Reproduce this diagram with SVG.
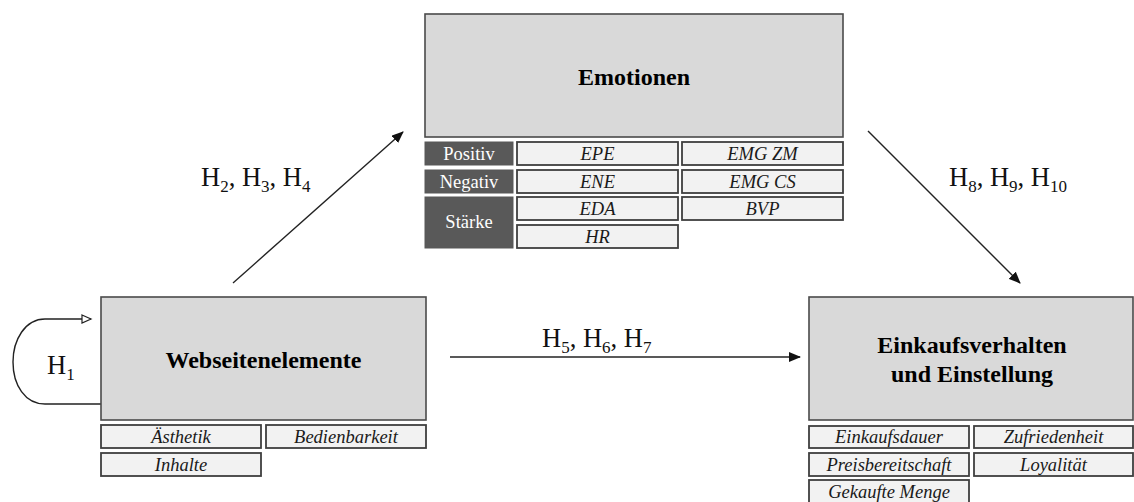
<svg xmlns="http://www.w3.org/2000/svg" width="1134" height="502" viewBox="0 0 1134 502">
<style>
text{font-family:"Liberation Serif","Times New Roman",serif}
.main{fill:#d9d9d9;stroke:#4a4a4a;stroke-width:1.6}
.sub{fill:#f2f2f2;stroke:#3f3f3f;stroke-width:1.8}
.dark{fill:#595959;stroke:#595959;stroke-width:1}
.title{font-weight:bold;font-size:24px;fill:#000;text-anchor:middle}
.it{font-style:italic;font-size:18.5px;fill:#1a1a1a;text-anchor:middle}
.lbl{font-size:18.5px;fill:#fff;text-anchor:middle}
.h{font-size:26.5px;fill:#111}
.s{font-size:17px}
.conn{fill:none;stroke:#222;stroke-width:1.4}
</style>
<defs>
<marker id="ah" markerWidth="12" markerHeight="10" refX="11" refY="5" orient="auto" markerUnits="userSpaceOnUse">
<path d="M0,0 L12,5 L0,10 Z" fill="#111"/>
</marker>
<marker id="open" markerWidth="12" markerHeight="10" refX="10" refY="5" orient="auto" markerUnits="userSpaceOnUse">
<path d="M1,1 L10,5 L1,9 Z" fill="#fff" stroke="#222" stroke-width="1.2"/>
</marker>
</defs>

<g id="connectors">
<path class="conn" d="M101,404 H45 C25,404 13,385 13,362 C13,340 25,319 45,319 H91" marker-end="url(#open)"/>
<line class="conn" x1="233" y1="283" x2="403" y2="132" marker-end="url(#ah)"/>
<line class="conn" x1="868" y1="131" x2="1020" y2="283" marker-end="url(#ah)"/>
<line class="conn" x1="450" y1="357" x2="800" y2="357" marker-end="url(#ah)"/>
<text class="h" x="47" y="374">H<tspan class="s" dy="6">1</tspan></text>
<text class="h" x="201" y="186">H<tspan class="s" dy="6">2</tspan><tspan dy="-6">, H</tspan><tspan class="s" dy="6">3</tspan><tspan dy="-6">, H</tspan><tspan class="s" dy="6">4</tspan></text>
<text class="h" x="542" y="347">H<tspan class="s" dy="6">5</tspan><tspan dy="-6">, H</tspan><tspan class="s" dy="6">6</tspan><tspan dy="-6">, H</tspan><tspan class="s" dy="6">7</tspan></text>
<text class="h" x="949" y="186">H<tspan class="s" dy="6">8</tspan><tspan dy="-6">, H</tspan><tspan class="s" dy="6">9</tspan><tspan dy="-6">, H</tspan><tspan class="s" dy="6">10</tspan></text>
</g>

<g id="emotionen">
<rect class="main" x="425" y="14" width="418" height="123"/>
<text class="title" x="634" y="85">Emotionen</text>
<rect class="dark" x="425" y="142" width="88" height="23"/>
<text class="lbl" x="469" y="160">Positiv</text>
<rect class="dark" x="425" y="170" width="88" height="23"/>
<text class="lbl" x="469" y="188">Negativ</text>
<rect class="dark" x="425" y="197" width="88" height="51"/>
<text class="lbl" x="469" y="228">Stärke</text>
<rect class="sub" x="517" y="142" width="161" height="23"/>
<text class="it" x="597.5" y="160">EPE</text>
<rect class="sub" x="682" y="142" width="161" height="23"/>
<text class="it" x="762.5" y="160">EMG ZM</text>
<rect class="sub" x="517" y="170" width="161" height="23"/>
<text class="it" x="597.5" y="188">ENE</text>
<rect class="sub" x="682" y="170" width="161" height="23"/>
<text class="it" x="762.5" y="188">EMG CS</text>
<rect class="sub" x="517" y="197" width="161" height="23"/>
<text class="it" x="597.5" y="215">EDA</text>
<rect class="sub" x="682" y="197" width="161" height="23"/>
<text class="it" x="762.5" y="215">BVP</text>
<rect class="sub" x="517" y="225" width="161" height="23"/>
<text class="it" x="597.5" y="243">HR</text>
</g>

<g id="webseitenelemente">
<rect class="main" x="101" y="297" width="325" height="123"/>
<text class="title" x="263.5" y="368">Webseitenelemente</text>
<rect class="sub" x="101" y="425" width="160" height="23"/>
<text class="it" x="181" y="443">Ästhetik</text>
<rect class="sub" x="266" y="425" width="160" height="23"/>
<text class="it" x="346" y="443">Bedienbarkeit</text>
<rect class="sub" x="101" y="453" width="160" height="23"/>
<text class="it" x="181" y="471">Inhalte</text>
</g>

<g id="einkaufsverhalten">
<rect class="main" x="809" y="297" width="324" height="123"/>
<text class="title" x="972" y="353">Einkaufsverhalten</text>
<text class="title" x="972" y="382">und Einstellung</text>
<rect class="sub" x="809" y="426" width="160" height="22"/>
<text class="it" x="889" y="443">Einkaufsdauer</text>
<rect class="sub" x="974" y="426" width="159" height="22"/>
<text class="it" x="1053.5" y="443">Zufriedenheit</text>
<rect class="sub" x="809" y="453" width="160" height="23"/>
<text class="it" x="889" y="471">Preisbereitschaft</text>
<rect class="sub" x="974" y="453" width="159" height="23"/>
<text class="it" x="1053.5" y="471">Loyalität</text>
<rect class="sub" x="809" y="480" width="160" height="24"/>
<text class="it" x="889" y="498">Gekaufte Menge</text>
</g>
</svg>
